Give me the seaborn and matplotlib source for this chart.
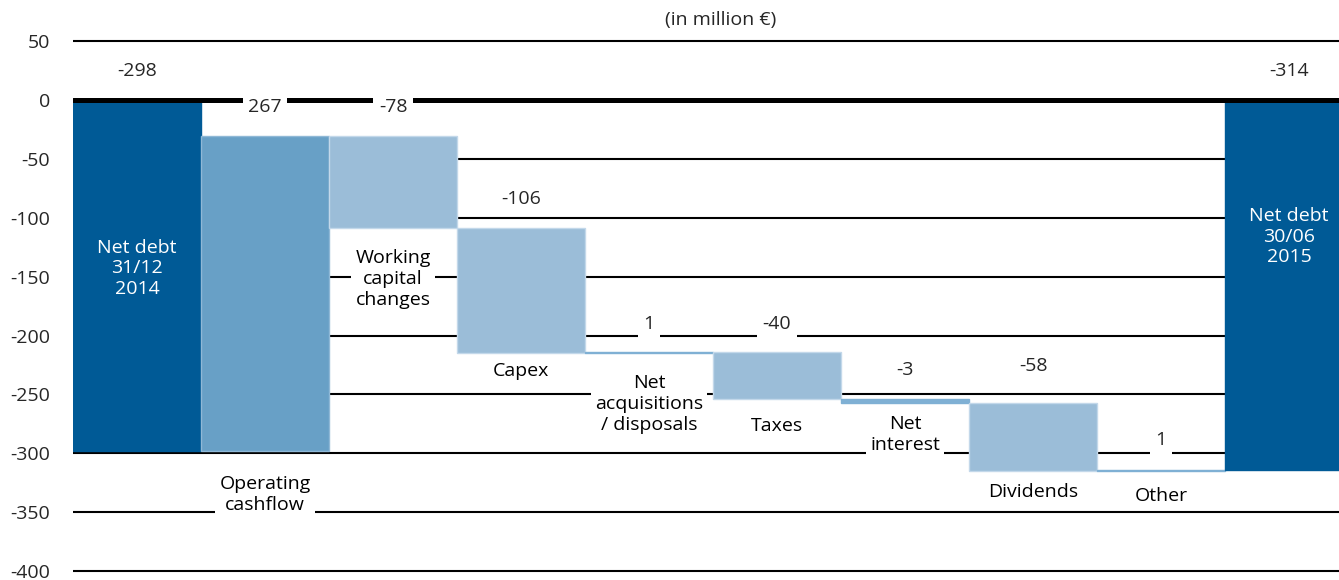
import pandas as pd
import seaborn as sns
import matplotlib.pyplot as plt

# data
categories = ["Net debt\n31/12\n2014", "Operating\ncashflow", "Working\ncapital\nchanges", "Capex",
              "Net\nacquisitions\n/ disposals", "Taxes", "Net\ninterest", "Dividends", "Other",
              "Net debt\n30/06\n2015"]
values = [-298, 267, -78, -106, 1, -40, -3, -58, 1, -314]
is_total = [True, False, False, False, False, False, False, False, False, True]
y_ticks = [50, 0, -50, -100, -150, -200, -250, -300, -350, -400]
title = "(in million €)"

# where the texts sit (data units)
value_label_y = [25, -6, -6, -84, -190, -190, -229, -226, -289, 25]
cat_label_y = [-143, -335, -152, -230, -258, -277, -284, -333, -336, -116]

dark = "#005a96"
mid = "#68a0c6"
light = "#9bbdd8"

# running totals for the waterfall
bottoms, heights = [], []
running = 0
for v, tot in zip(values, is_total):
    if tot:
        bottoms.append(0)
        heights.append(v)
        running = v
    else:
        bottoms.append(running)
        heights.append(v)
        running = running + v

df = pd.DataFrame({"cat": categories, "height": heights, "bottom": bottoms})

sns.set_style("white")
plt.rcParams["font.family"] = ["Open Sans", "DejaVu Sans"]
plt.rcParams["axes.unicode_minus"] = False

fig = plt.figure(figsize=(13.39, 5.8), dpi=100)
ax = fig.add_axes([0.0545, 0.0053, 0.9455, 0.934])

sns.barplot(data=df, x="cat", y="height", order=categories, bottom=df["bottom"].values,
            width=1.0, errorbar=None, color=light, ax=ax)

for i, p in enumerate(ax.patches):
    if is_total[i]:
        p.set_facecolor(dark)
        p.set_edgecolor(dark)
    elif i == 1:
        p.set_facecolor(mid)
        p.set_edgecolor("#8fb8d6")
    elif abs(values[i]) < 5:
        p.set_facecolor("#7fb0d4")
        p.set_edgecolor("#7fb0d4")
    else:
        p.set_facecolor(light)
        p.set_edgecolor("#c3d8ea")
    p.set_linewidth(1.0)

ax.set_xlim(-0.5, 9.39)
ax.set_ylim(-405, 55)
ax.set_yticks(y_ticks)
ax.set_yticklabels([str(t) for t in y_ticks], fontsize=14)
ax.set_xticks([])
ax.set_xlabel("")
ax.set_ylabel("")
ax.tick_params(axis="y", left=False, pad=13)
ax.yaxis.grid(True, color="black", lw=1.5)
ax.set_axisbelow(True)
sns.despine(ax=ax, left=True, bottom=True, right=True, top=True)
ax.axhline(0, color="black", lw=3.6, zorder=2.5)

for i, v in enumerate(values):
    ax.text(i, value_label_y[i], str(v), ha="center", va="center", fontsize=14, zorder=5,
            bbox=dict(facecolor="white", edgecolor="none", pad=4))
    if is_total[i]:
        ax.text(i, cat_label_y[i], categories[i], ha="center", va="center", fontsize=14,
                color="white", linespacing=1.2, zorder=5)
    else:
        ax.text(i, cat_label_y[i], categories[i], ha="center", va="center", fontsize=14,
                color="black", linespacing=1.2, zorder=5,
                bbox=dict(facecolor="white", edgecolor="none", pad=3))

fig.text(0.538, 0.9655, title, ha="center", va="center", fontsize=14)

fig.savefig("out.png", dpi=100)
